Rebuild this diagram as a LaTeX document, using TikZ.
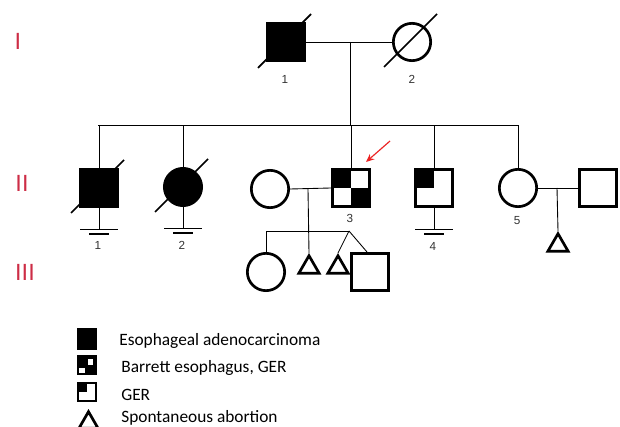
\documentclass[tikz,border=0pt]{standalone}
\usepackage{fontspec}
\setmainfont{Liberation Sans}
\newfontfamily\legendfont{Carlito}
\usetikzlibrary{shapes.geometric, arrows.meta, calc}
\definecolor{genred}{RGB}{205,45,70}
\definecolor{arrred}{RGB}{235,35,35}

\begin{document}
\begin{tikzpicture}[x=0.03cm, y=-0.03cm, line width=0.75pt,
	male/.style={draw, rectangle, line width=2.3pt, minimum size=1.12cm, inner sep=0pt},
	female/.style={draw, circle, line width=2.3pt, minimum size=1.12cm, inner sep=0pt},
	loss/.style={draw, regular polygon, regular polygon sides=3, line width=2.3pt,
		minimum size=0.7cm, inner sep=0pt, anchor=corner 1},
	checker/.style={male, path picture={
			\fill (path picture bounding box.north west) rectangle (path picture bounding box.center);
			\fill (path picture bounding box.center) rectangle (path picture bounding box.south east);}},
	ger/.style={male, path picture={
			\fill (path picture bounding box.north west) rectangle (path picture bounding box.center);}},
	num/.style={font=\fontsize{10}{12}\selectfont, text=black!80},
	gen/.style={font=\fontsize{20}{22}\selectfont, text=genred},
	deceased/.style={line width=1.5pt},
	leg/.style={font=\legendfont\fontsize{14.8}{16}\selectfont, anchor=west}]
	\useasboundingbox (0,0) rectangle (620,427);
	% generation labels
	\node[gen] (g1) at (18,41) {I};
	\node[gen] (g2) at (22,183) {II};
	\node[gen] (g3) at (25,272) {III};
	% ---------- Generation I ----------
	\node[male, fill=black] (I1) at (286,42) {};
	\node[female] (I2) at (412,42) {};
	\node[num] (nI1) at (285,79) {1};
	\node[num] (nI2) at (412,79) {2};
	\draw[deceased] ($(I1.center)+(-28,26)$) -- ($(I1.center)+(25,-28)$);
	\draw[deceased] ($(I2.center)+(-28,25)$) -- ($(I2.center)+(25,-28)$);
	\draw (I1.east) -- (I2.west);
	\coordinate (m1) at (350,42);
	\coordinate (s2) at (350,125);
	\draw (m1) -- (s2);
	% ---------- Generation II ----------
	\node[male, fill=black] (II1) at (99,188) {};
	\node[female, fill=black] (II2) at (183,187) {};
	\node[female] (II3w) at (270,189) {};
	\node[checker] (II3) at (351,188) {};
	\node[ger] (II4) at (434,188) {};
	\node[female] (II5) at (518,188) {};
	\node[male] (II5h) at (598,188) {};
	\node[num] (nII1) at (98,245) {1};
	\node[num] (nII2) at (182,245) {2};
	\node[num] (nII3) at (350,218) {3};
	\node[num] (nII4) at (433,246) {4};
	\node[num] (nII5) at (517,221) {5};
	\draw[deceased] ($(II1.center)+(-28,25)$) -- ($(II1.center)+(25,-28)$);
	\draw[deceased] ($(II2.center)+(-28,25)$) -- ($(II2.center)+(25,-28)$);
	% sibship line
	\draw ($(II1.north |- s2)+(-1,0)$) -- (II5.north |- s2);
	\foreach \p in {II1, II2, II3, II4, II5}
	{
		\draw (\p.north) -- (\p.north |- s2);
	}
	% no offspring bars
	\foreach \p in {II1, II2, II4}
	{
		\draw (\p.south) -- ++(0,21) coordinate (\p b);
		\draw ($(\p b)+(-19,0)$) -- ($(\p b)+(19,0)$);
		\draw[line width=1pt] ($(\p b)+(-10,5)$) -- ($(\p b)+(10,5)$);
	}
	% proband arrow
	\coordinate (arr) at (390,141);
	\draw[arrred, line width=1pt, -{Stealth[length=7pt, width=6pt]}] (arr) -- ($(II3.north east)+(-5,-6)$);
	% couples
	\draw (II3w.east) -- (II3.west);
	\draw (II5.east) -- (II5h.west);
	\coordinate (m3) at (308,189);
	\coordinate (m5) at (557,188);
	% ---------- Generation III ----------
	\node[female] (III1) at (266,272) {};
	\node[loss] (III2) at (309,253) {};
	\node[loss] (III3) at (338,253) {};
	\node[male] (III4) at (370,272) {};
	\node[loss] (III5) at (558,231) {};
	\coordinate (tw) at (349,231);
	\draw (m3) -- (III2.corner 1);
	\draw (III1.north |- tw) -- (tw);
	\draw (III1.north) -- (III1.north |- tw);
	\draw (tw) -- (III3.corner 1);
	\draw (tw) -- ($(III4.north)+(-3,0)$);
	\draw (m5) -- (III5.corner 1);
	% ---------- Legend ----------
	\node[fill=black, minimum width=0.6cm, minimum height=0.64cm, inner sep=0pt] (L1) at (87,339) {};
	\node[fill=black, minimum width=0.6cm, minimum height=0.6cm, inner sep=0pt] (L2) at (87,365) {};
	\fill[white] (88,359) rectangle (93,365);
	\fill[white] (79,368) rectangle (85,373);
	\node[draw, line width=1.8pt, minimum width=0.55cm, minimum height=0.55cm, inner sep=0pt,
		path picture={\fill (path picture bounding box.north west) rectangle (path picture bounding box.center);}] (L3) at (87,392) {};
	\node[draw, regular polygon, regular polygon sides=3, line width=2.3pt, minimum size=0.66cm,
		inner sep=0pt, anchor=corner 1] (L4) at (88.5,409) {};
	\node[leg] (t1) at (115,341) {Esophageal adenocarcinoma};
	\node[leg] (t2) at (117,368) {Barrett esophagus, GER};
	\node[leg] (t3) at (117,395) {GER};
	\node[leg] (t4) at (117,418) {Spontaneous abortion};
\end{tikzpicture}
\end{document}
